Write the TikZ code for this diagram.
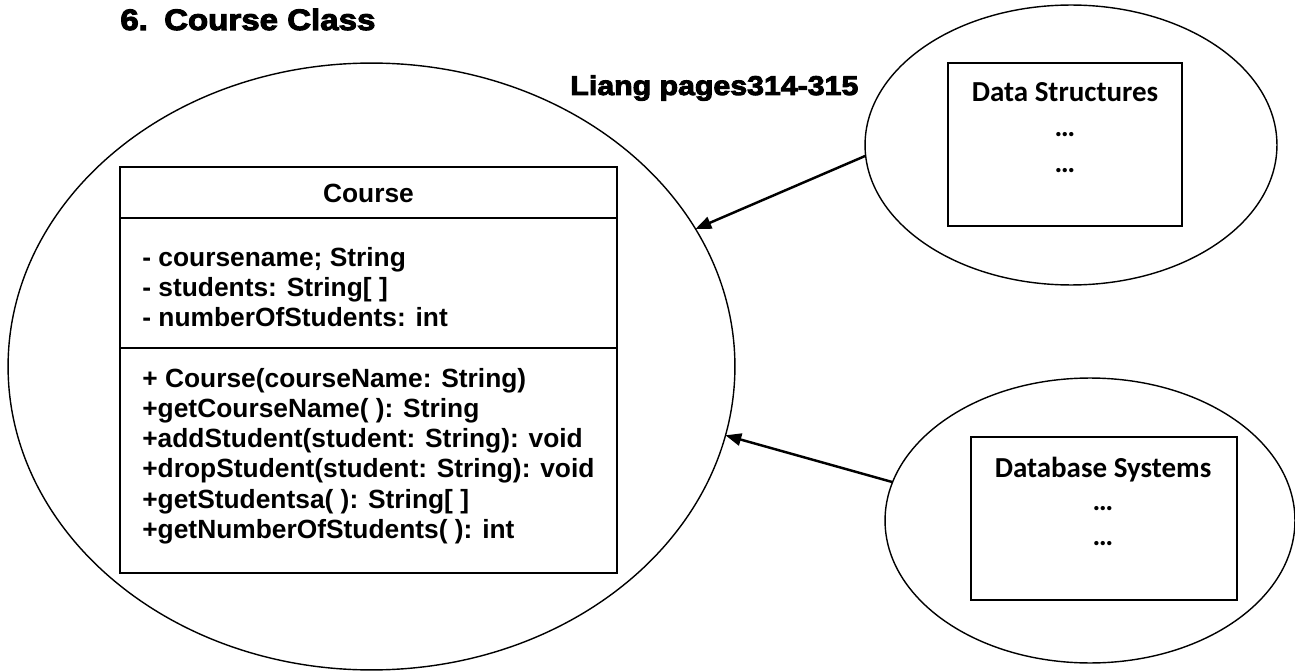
\documentclass[tikz,border=0pt]{standalone}
\usepackage{fontspec}
\setmainfont{Liberation Sans}
\newfontfamily\blackfont{Liberation Sans}[FakeStretch=1.12,BoldFeatures={FakeBold=3.5}]
\newfontfamily\calfont{Carlito}
\usetikzlibrary{shapes.geometric,arrows.meta}
\begin{document}
\begin{tikzpicture}[x=0.02cm,y=-0.02cm,
  oval/.style={ellipse,draw,line width=0.8pt,inner sep=0pt,outer sep=0pt},
  frame/.style={draw,line width=1.1pt,inner sep=0pt,outer sep=0pt},
  umltext/.style={font=\bfseries\fontsize{15}{17.2}\selectfont,align=left,anchor=west,inner sep=0pt},
  headtext/.style={font=\blackfont\bfseries\fontsize{16.8}{20}\selectfont,inner sep=0pt,anchor=base west},
  boxtitle/.style={font=\calfont\bfseries\fontsize{16.5}{20}\selectfont,inner sep=0pt,anchor=base},
  link/.style={line width=1.4pt,-{Triangle[length=9pt,width=7pt]}}]
\useasboundingbox (0,0) rectangle (1295,672);

% title texts
\node[headtext] (title) at (120,30) {6.\hspace{0.55em}Course Class};
\node[headtext,font=\blackfont\bfseries\fontsize{15.4}{18}\selectfont] (liang) at (570,95) {Liang pages314-315};

% big ellipse with class box
\node[oval,minimum width=14.54cm,minimum height=12.14cm] (course) at (371.5,366.5) {};
\node[frame,minimum width=9.94cm,minimum height=8.12cm] (clsbox) at (368.5,370) {};
\draw[line width=1.1pt] (120,218) -- (617,218);
\draw[line width=1.1pt] (120,348) -- (617,348);
\node[font=\bfseries\fontsize{15}{17}\selectfont,inner sep=0pt] (clsname) at (368.5,193) {Course};
\node[umltext] (attrs) at (142,287) {- coursename; String\\- students: String[ ]\\- numberOfStudents: int};
\node[umltext] (meths) at (142,456) {+ Course(courseName: String)\\+getCourseName( ): String\\+addStudent(student: String): void\\+dropStudent(student: String): void\\+getStudentsa( ): String[ ]\\+getNumberOfStudents( ): int};

% Data Structures
\node[oval,minimum width=8.24cm,minimum height=5.6cm] (ds) at (1071,145) {};
\node[frame,minimum width=4.68cm,minimum height=3.26cm] (dsbox) at (1065,144.5) {};
\node[boxtitle] (dstitle) at (1065,102) {Data Structures};
\node[boxtitle] (dsdots1) at (1065,137) {…};
\node[boxtitle] (dsdots2) at (1065,173) {…};

% Database Systems
\node[oval,minimum width=8.2cm,minimum height=5.7cm] (db) at (1090,520.5) {};
\node[frame,minimum width=5.32cm,minimum height=3.26cm] (dbbox) at (1104,518.5) {};
\node[boxtitle] (dbtitle) at (1103,477) {Database Systems};
\node[boxtitle] (dbdots1) at (1103,510) {…};
\node[boxtitle] (dbdots2) at (1103,545) {…};

% connectors
\draw[link] (ds.183.3) -- (course.23.6);
\draw[link] (db.169.3) -- (course.-11.4);
\end{tikzpicture}
\end{document}
